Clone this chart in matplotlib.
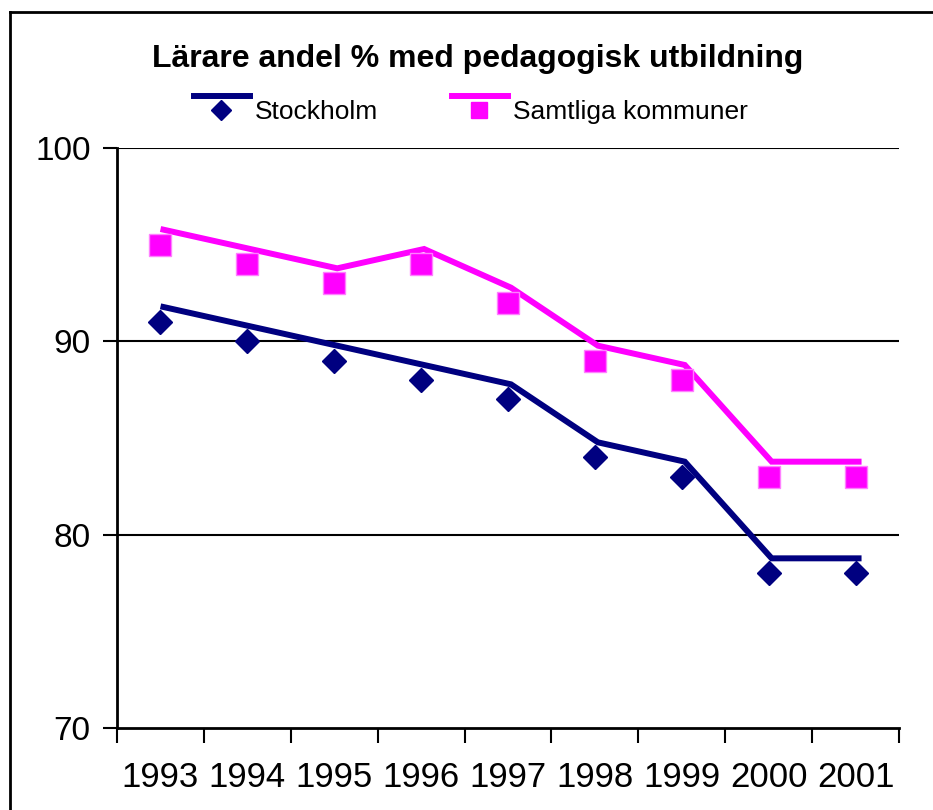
import matplotlib
matplotlib.use('Agg')
from matplotlib import pyplot as plt
from matplotlib.lines import Line2D
from matplotlib import transforms
import numpy as np

plt.rcParams['font.family'] = ['Liberation Sans', 'DejaVu Sans']

# data
years = ['1993', '1994', '1995', '1996', '1997', '1998', '1999', '2000', '2001']
stockholm = [91, 90, 89, 88, 87, 84, 83, 78, 78]
samtliga = [95, 94, 93, 94, 92, 89, 88, 83, 83]
yticks = [70, 80, 90, 100]

navy = '#000080'
magenta = '#FF00FF'

W, H = 933, 810
fig = plt.figure(figsize=(W / 100, H / 100), dpi=100)
ax = fig.add_axes([117 / W, 1 - 728 / H, (899 - 117) / W, (728 - 148) / H])

x = np.arange(len(years))
# the lines sit a bit up and right of the markers, like the original
shifted = transforms.offset_copy(ax.transData, fig=fig, x=3, y=15, units='dots')
ax.plot(x, stockholm, '-', color=navy, lw=4.3, transform=shifted, solid_joinstyle='miter')
ax.plot(x, samtliga, '-', color=magenta, lw=4.3, transform=shifted, solid_joinstyle='miter')
ax.plot(x, stockholm, 'D', color=navy, ms=12.7, mec=navy, ls='none')
ax.plot(x, samtliga, 's', color=magenta, ms=16.5, mec='#ff80ff', mew=1, ls='none')

ax.set_xlim(-0.5, len(years) - 0.5)
ax.set_ylim(70, 100)
ax.set_yticks(yticks)
ax.set_yticklabels([str(v) for v in yticks], fontsize=24)
ax.set_xticks(np.arange(len(years) + 1) - 0.5)
ax.set_xticklabels([])
ax.set_xticks(x, minor=True)
ax.set_xticklabels(years, minor=True, fontsize=25)
ax.tick_params(axis='x', which='major', direction='out', length=11, width=1.5)
ax.tick_params(axis='x', which='minor', length=0, pad=24)
ax.tick_params(axis='y', direction='out', length=10, width=1.5, pad=9)
for v in [80, 90, 100]:
    ax.axhline(v, color='black', lw=1.5, zorder=0)
ax.spines['top'].set_visible(False)
ax.spines['right'].set_visible(False)
ax.spines['left'].set_linewidth(2)
ax.spines['bottom'].set_linewidth(2)

fig.text(478 / W, 1 - 59 / H, 'Lärare andel % med pedagogisk utbildning',
         ha='center', va='center', fontsize=23, fontweight='bold')

# legend drawn by hand
def px(xp, yp):
    return xp / W, 1 - yp / H

for x0, x1, col, mk, ms, label in [(194, 250, navy, 'D', 10, 'Stockholm'),
                                   (452, 508, magenta, 's', 12, 'Samtliga kommuner')]:
    fig.add_artist(Line2D([x0 / W, x1 / W], [1 - 96 / H, 1 - 96 / H], color=col, lw=4.3))
    fig.add_artist(Line2D([(x0 + x1) / 2 / W - 1 / W], [1 - 110 / H], marker=mk, color=col, ms=ms, ls='none'))
    fig.text(*px(x1 + 5, 112), label, fontsize=19, va='center', ha='left')

# outer frame (left and top only)
fig.add_artist(Line2D([10 / W, 10 / W], [0, 1 - 12 / H], color='black', lw=2))
fig.add_artist(Line2D([10 / W, 1], [1 - 12 / H, 1 - 12 / H], color='black', lw=2))

fig.savefig('out.png', dpi=100)
